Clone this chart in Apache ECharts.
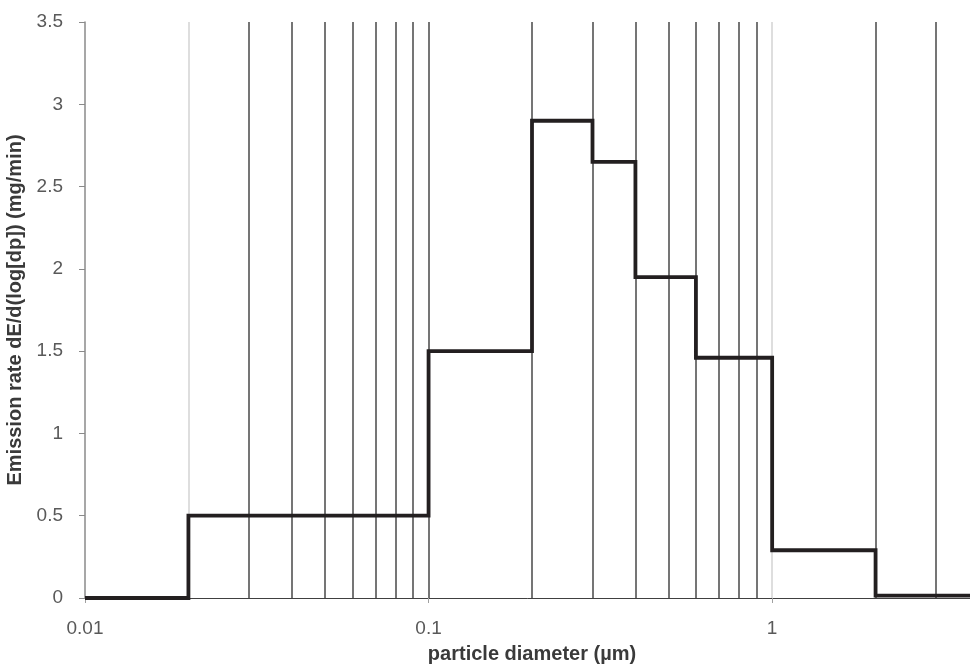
<!DOCTYPE html>
<html>
<head>
<meta charset="utf-8">
<script src="https://cdn.jsdelivr.net/npm/echarts@6/dist/echarts.min.js"></script>
<style>
html,body{margin:0;padding:0;background:#fff;}
#chart{width:970px;height:665px;}
</style>
</head>
<body>
<div id="chart"></div>
<script>
// Bin edges (µm) and emission rate per bin (mg/min)
const binEdges = [0.01, 0.02, 0.1, 0.2, 0.3, 0.4, 0.6, 1, 2, 4];
const binValues = [0, 0.5, 1.5, 2.9, 2.65, 1.95, 1.46, 0.29, 0.015];
// Instrument stage boundaries drawn as dark vertical lines
const darkLines = [0.03, 0.04, 0.05, 0.06, 0.07, 0.08, 0.09, 0.1, 0.2, 0.3, 0.4, 0.5, 0.6, 0.7, 0.8, 0.9, 2, 3];
// Light vertical lines
const lightLines = [0.02, 1];
const xTickLabels = ['0.01', '0.1', '1'];
const yTickLabels = ['0', '0.5', '1', '1.5', '2', '2.5', '3', '3.5'];

const stepData = binValues.map((v, i) => [binEdges[i], v]);
stepData.push([binEdges[binEdges.length - 1], binValues[binValues.length - 1]]);

const font = '"Liberation Sans", Arial, sans-serif';
const chart = echarts.init(document.getElementById('chart'), null, {renderer: 'canvas'});
chart.setOption({
  animation: false,
  backgroundColor: '#ffffff',
  grid: {left: 85, top: 22, width: 894, height: 576, containLabel: false, outerBoundsMode: 'none'},
  xAxis: {
    type: 'log', logBase: 10, min: 0.01, max: 4,
    name: 'particle diameter (µm)', nameLocation: 'middle', nameGap: 46,
    nameTextStyle: {fontFamily: font, fontWeight: 'bold', fontSize: 20, color: '#3a3a3a'},
    axisLine: {show: true, lineStyle: {color: '#404040', width: 1}},
    axisTick: {show: true, length: 5, lineStyle: {color: '#a0a0a0'}},
    minorTick: {show: false},
    splitLine: {show: false},
    axisLabel: {
      show: true, margin: 21, showMaxLabel: false,
      fontFamily: font, fontSize: 19, color: '#595959',
      formatter: function (v) {
        const s = String(+Number(v).toPrecision(3));
        return xTickLabels.indexOf(s) >= 0 ? s : '';
      }
    }
  },
  yAxis: {
    type: 'value', min: 0, max: 3.5, interval: 0.5,
    name: 'Emission rate dE/d(log[dp]) (mg/min)', nameLocation: 'middle', nameGap: 51,
    nameTextStyle: {fontFamily: font, fontWeight: 'bold', fontSize: 20, color: '#3a3a3a'},
    axisLine: {show: true, lineStyle: {color: '#8a8a8a', width: 1.5}},
    axisTick: {show: true, length: 6, lineStyle: {color: '#8a8a8a'}},
    splitLine: {show: false},
    axisLabel: {
      margin: 22, fontFamily: font, fontSize: 19, color: '#595959',
      formatter: function (v, i) { return yTickLabels[i] !== undefined ? yTickLabels[i] : String(v); }
    }
  },
  series: [
    {
      type: 'line', data: [], z: 1, silent: true,
      markLine: {
        silent: true, symbol: ['none', 'none'], label: {show: false},
        lineStyle: {color: '#d3d3d3', width: 1.5, type: 'solid'},
        data: lightLines.map(v => ({xAxis: v}))
      }
    },
    {
      type: 'line', data: [], z: 2, silent: true,
      markLine: {
        silent: true, symbol: ['none', 'none'], label: {show: false},
        lineStyle: {color: '#474747', width: 1.5, type: 'solid'},
        data: darkLines.map(v => ({xAxis: v}))
      }
    },
    {
      type: 'line', step: 'end', data: stepData, z: 5,
      showSymbol: false, symbol: 'none',
      lineStyle: {color: '#231f20', width: 3.8, join: 'miter'}
    }
  ]
});
</script>
</body>
</html>
